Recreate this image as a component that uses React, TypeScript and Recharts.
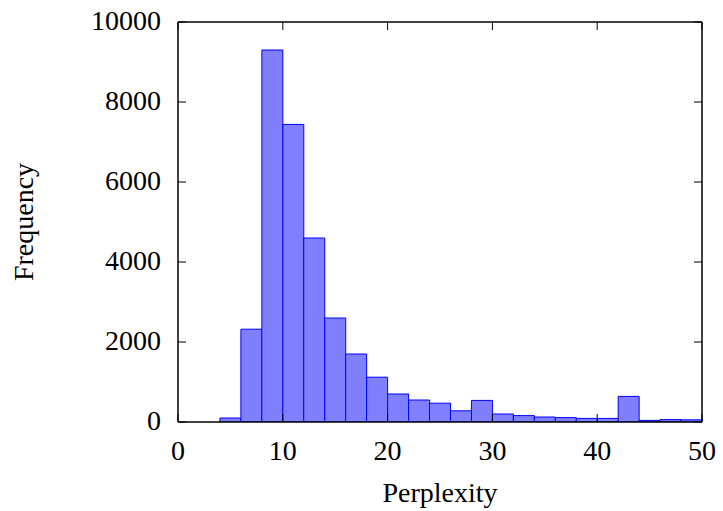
import { BarChart, Bar, XAxis, YAxis } from 'recharts'

// histogram bin centres (bins are 2 wide, 4..50)
const perplexityBins = [5, 7, 9, 11, 13, 15, 17, 19, 21, 23, 25, 27, 29, 31, 33, 35, 37, 39, 41, 43, 45, 47, 49]
const frequencies = [100, 2320, 9300, 7440, 4600, 2600, 1700, 1120, 700, 550, 470, 280, 540, 200, 160, 125, 110, 90, 90, 640, 40, 60, 55]

const xTicks = [0, 10, 20, 30, 40, 50]
const yTicks = [0, 2000, 4000, 6000, 8000, 10000]

const chartData = perplexityBins.map((bin, i) => ({ bin, count: frequencies[i] }))

const FONT = '"Liberation Serif", "Times New Roman", serif'
const TICK_LEN = 8

function BottomTick({ x, y, payload }: any) {
  return (
    <g>
      <line x1={x} y1={y} x2={x} y2={y - TICK_LEN} stroke="#000" strokeWidth={1} />
      <text x={x} y={y + 38} textAnchor="middle" fontFamily={FONT} fontSize={28} fill="#000">
        {payload.value}
      </text>
    </g>
  )
}

function TopTick({ x, y }: any) {
  return <line x1={x} y1={y} x2={x} y2={y + TICK_LEN} stroke="#000" strokeWidth={1} />
}

function LeftTick({ x, y, payload }: any) {
  return (
    <g>
      <line x1={x} y1={y} x2={x + TICK_LEN} y2={y} stroke="#000" strokeWidth={1} />
      <text x={x - 17} y={y} dy="0.3em" textAnchor="end" fontFamily={FONT} fontSize={28} fill="#000">
        {payload.value}
      </text>
    </g>
  )
}

function RightTick({ x, y }: any) {
  return <line x1={x} y1={y} x2={x - TICK_LEN} y2={y} stroke="#000" strokeWidth={1} />
}

export default function App() {
  const axisLine = { stroke: '#000', strokeWidth: 1.5 }
  return (
    <div style={{ position: 'absolute', left: 0, top: 0, width: 723, height: 511, background: '#fff' }}>
      <BarChart
        width={723}
        height={511}
        data={chartData}
        margin={{ top: 21, right: 20, left: 0, bottom: 0 }}
        barCategoryGap={0}
        barGap={0}
      >
        <XAxis
          dataKey="bin"
          type="number"
          domain={[0, 50]}
          ticks={xTicks}
          allowDataOverflow
          height={89}
          tickSize={0}
          tickMargin={0}
          tickLine={false}
          axisLine={axisLine}
          tick={<BottomTick />}
          label={{
            content: ({ viewBox }: any) => (
              <text
                x={viewBox.x + viewBox.width / 2}
                y={viewBox.y + 80}
                textAnchor="middle"
                fontFamily={FONT}
                fontSize={28}
                fill="#000"
              >
                Perplexity
              </text>
            ),
          }}
        />
        <XAxis
          xAxisId="top"
          orientation="top"
          dataKey="bin"
          type="number"
          domain={[0, 50]}
          ticks={xTicks}
          allowDataOverflow
          height={1}
          tickSize={0}
          tickMargin={0}
          tickLine={false}
          axisLine={axisLine}
          tick={<TopTick />}
        />
        <YAxis
          type="number"
          domain={[0, 10000]}
          ticks={yTicks}
          allowDataOverflow
          width={178}
          tickSize={0}
          tickMargin={0}
          tickLine={false}
          axisLine={axisLine}
          tick={<LeftTick />}
          label={{
            content: ({ viewBox }: any) => {
              const cx = viewBox.x + 33
              const cy = viewBox.y + viewBox.height / 2
              return (
                <text
                  x={cx}
                  y={cy}
                  transform={`rotate(-90 ${cx} ${cy})`}
                  textAnchor="middle"
                  fontFamily={FONT}
                  fontSize={28}
                  fill="#000"
                >
                  Frequency
                </text>
              )
            },
          }}
        />
        <YAxis
          yAxisId="right"
          orientation="right"
          type="number"
          domain={[0, 10000]}
          ticks={yTicks}
          allowDataOverflow
          width={1}
          tickSize={0}
          tickMargin={0}
          tickLine={false}
          axisLine={axisLine}
          tick={<RightTick />}
        />
        <Bar
          dataKey="count"
          fill="#8080ff"
          stroke="#0000ff"
          strokeWidth={1}
          isAnimationActive={false}
        />
      </BarChart>
    </div>
  )
}
